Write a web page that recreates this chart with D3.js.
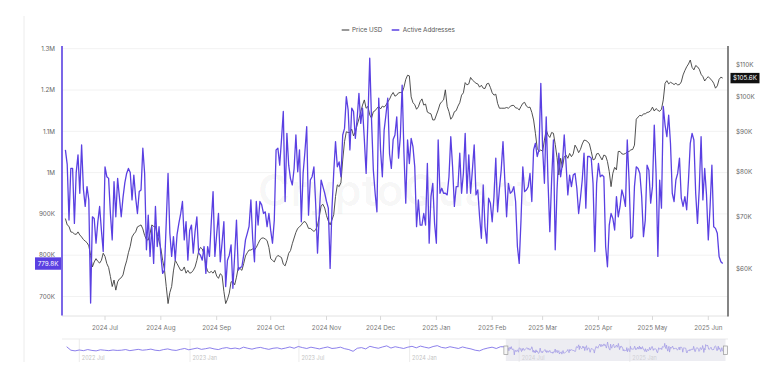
<!DOCTYPE html>
<html><head><meta charset="utf-8">
<script src="https://cdn.jsdelivr.net/npm/d3@7"></script>
<style>body{margin:0;background:#fff}svg{display:block}text{font-family:Inter,"Noto Sans",sans-serif}</style>
</head><body><svg id="c" width="770" height="373"></svg>
<script>
// ---------- DATA ----------
const startDate = "2024-06-09";          // first daily point
const endDate = "2025-06-09";            // last daily point
// Active addresses, thousands, daily
const activeAddressesK = [
1055,1020,885,1010,1010,877,1000,1043,950,1067,
960,918,966,934,684,893,889,829,880,918,
860,809,1014,990,986,900,837,978,893,986,
940,893,940,975,998,1010,1000,934,994,940,
901,954,958,1059,998,813,897,797,869,780,
918,821,869,800,756,764,880,998,853,797,
845,788,850,877,900,930,837,881,788,860,
873,805,857,893,805,800,788,821,756,821,
797,880,954,797,850,901,784,830,881,724,
788,800,825,720,800,885,764,770,772,800,
837,853,870,934,840,784,930,873,930,922,
901,905,869,901,860,829,885,1055,1059,1018,
1080,1148,930,1095,1018,985,970,1010,1091,1002,
1055,881,998,1050,1111,897,982,990,1014,922,
805,900,982,966,950,930,914,768,910,1000,
1075,1014,1026,990,1091,1107,1184,1152,1055,1156,
1148,1083,1130,1192,1119,1156,1080,998,1130,1277,
1127,1006,950,905,1180,1055,990,1103,1140,1180,
1045,1010,1080,1091,1135,1035,1087,1212,1047,926,
1079,1022,1083,1063,1014,869,934,873,873,901,
873,1022,829,942,974,877,829,1079,950,962,
950,950,946,990,1087,1014,918,966,966,1047,
950,998,1095,950,1043,950,1006,1067,946,958,
893,841,970,869,829,938,926,881,942,1035,
905,960,1006,1075,982,893,974,950,954,966,
930,821,780,885,1014,954,958,966,998,930,
1055,1071,1039,1055,1216,1059,974,1135,978,857,
982,1079,813,958,1047,990,1022,1091,1022,946,
994,966,994,998,962,901,938,982,1047,914,
1039,1039,1035,974,809,974,1022,990,994,990,
821,772,873,901,889,861,942,893,918,958,
942,918,1079,982,841,845,966,1014,1010,998,
942,845,885,1018,1006,926,966,1115,998,797,
982,914,1160,1115,1087,1139,1071,950,930,982,
998,1035,938,918,942,910,982,1071,1095,1079,
950,877,962,1087,934,1010,946,837,918,1018,
869,865,853,797,784,779.8
];
// BTC price, thousands USD, daily
const priceUsdK = [
69.7,68.4,68.1,67.0,66.9,66.6,66.5,67.0,66.4,66.0,
65.5,65.2,64.9,64.3,62.5,60.4,61.3,61.9,61.4,61.1,
61.6,62.9,62.3,61.0,60.3,58.7,57.0,58.1,56.4,57.8,
58.3,58.5,59.0,60.4,61.5,63.0,64.2,66.0,66.6,67.0,
68.0,68.2,68.4,67.6,66.3,65.5,65.4,66.7,68.4,68.1,
68.1,66.5,65.2,63.8,61.6,60.0,57.0,54.2,56.0,57.0,
59.7,61.6,61.0,60.4,59.8,59.8,60.4,59.3,59.8,59.3,
59.4,59.8,60.4,61.6,63.3,64.0,63.7,62.7,60.7,59.6,
59.4,59.6,59.3,59.8,58.8,58.4,59.2,58.9,56.2,54.2,
54.9,55.9,57.8,57.8,57.3,58.6,60.3,60.1,59.8,61.0,
62.4,63.0,63.5,63.5,63.7,63.5,64.0,64.7,65.4,65.8,
65.8,65.6,65.3,64.0,61.9,61.6,61.3,62.1,62.5,62.3,
62.1,60.9,60.6,61.6,62.9,63.4,64.7,65.8,66.9,67.7,
68.0,68.4,68.9,69.1,68.6,67.7,67.7,67.4,67.1,67.4,
68.3,70.1,72.4,72.7,71.9,70.3,69.2,68.4,69.4,70.5,
74.4,77.0,76.6,77.5,82.9,87.5,90.1,89.9,89.9,90.8,
89.0,90.1,91.9,93.6,95.6,97.5,99.0,96.6,97.1,94.7,
93.8,95.6,95.9,96.6,97.1,96.4,97.2,96.9,97.5,98.4,
99.2,100.4,101.2,100.1,100.4,101.1,101.2,101.1,102.8,105.2,
106.5,106.3,99.9,98.2,97.6,96.3,97.0,98.5,99.3,97.5,
97.8,95.5,95.2,95.0,93.3,93.3,94.7,96.1,97.8,98.5,
99.0,102.0,97.1,95.6,93.5,94.2,95.6,95.9,97.2,98.2,
100.4,101.1,104.2,103.5,103.8,105.8,105.0,104.5,104.0,103.8,
102.8,103.4,102.5,102.4,103.8,104.0,102.7,101.1,100.4,100.7,
98.0,96.6,96.6,96.6,96.6,96.8,96.6,97.1,97.4,97.4,
96.7,96.6,96.1,97.1,98.0,98.3,97.2,96.8,96.9,95.4,
93.3,89.7,85.8,85.0,85.4,85.0,87.9,90.6,89.2,88.6,
89.9,89.7,86.8,83.5,79.3,83.3,81.1,83.7,84.1,83.3,
84.5,83.7,84.4,86.6,85.8,84.7,85.5,86.9,87.9,87.8,
87.5,86.9,85.0,82.9,83.1,84.4,84.5,83.7,82.9,84.1,
83.9,82.5,80.1,76.6,79.7,81.1,80.5,85.0,85.0,84.4,
84.3,84.5,84.9,85.0,85.4,85.5,86.6,93.5,94.1,94.6,
94.4,95.0,95.0,95.4,95.5,95.9,96.9,95.8,96.5,96.0,
95.7,96.3,99.0,104.0,104.8,103.8,104.3,104.0,103.6,104.0,
103.5,103.6,104.4,106.6,108.0,109.2,110.1,111.4,109.0,108.2,
109.6,109.2,108.4,106.8,106.05,104.7,105.5,106.05,105.4,104.9,
104.0,102.5,103.2,105.2,105.9,105.6
];
// Navigator: weekly active addresses (thousands) before the daily window
const navStartDate = "2022-06-10";
const navWeeklyAddressesK = [
1060,900,870,910,880,930,890,870,920,900,880,910,890,
900,930,880,910,940,900,920,950,900,880,930,960,910,
890,940,980,920,960,1000,940,970,1010,960,930,990,1020,
970,1000,960,1040,990,950,1000,1030,980,940,990,1010,960,
1000,1050,990,1070,1020,980,1040,1000,960,1010,1050,980,1000,
1040,970,930,850,990,1020,960,1080,1030,990,1050,1100,1000,
1060,1020,980,1040,1080,1010,1090,1040,1000,1070,1110,1030,1000,
1060,1020,980,1050,1000,960,900,870,950,1000,1040,980,1060
];
const navTickDates = ["2022-07-01","2023-01-01","2023-07-01","2024-01-01","2024-07-01","2025-01-01"];
const navTickLabels = ["2022 Jul","2023 Jan","2023 Jul","2024 Jan","2024 Jul","2025 Jan"];
const leftTicks = [700000,800000,900000,1000000,1100000,1200000,1300000];
const leftTickLabels = ["700K","800K","900K","1M","1.1M","1.2M","1.3M"];
const rightTicks = [60000,70000,80000,90000,100000,110000];
const rightTickLabels = ["$60K","$70K","$80K","$90K","$100K","$110K"];
const seriesNames = ["Price USD","Active Addresses"];
const lastAddressLabel = "779.8K";
const lastPriceLabel = "$105.6K";

// ---------- DRAW ----------
const svg = d3.select("#c");
const BLUE = "#5a40e2", GREY = "#3d3d3d";
const P = {l:62, r:728, t:46, b:315.5};
const parse = d3.utcParse("%Y-%m-%d");
const t0 = parse(startDate);
const daily = activeAddressesK.map((v,i)=>({date:d3.utcDay.offset(t0,i), addr:v*1000, price:priceUsdK[i]*1000}));

const x = d3.scaleUtc().domain([parse(startDate), parse(endDate)]).range([65.4, 722.7]);
const yL = d3.scaleLinear().domain([700000,1300000]).range([296.5,48.7]);
const yR = d3.scaleLog().domain([60000,110000]).range([269.2,64.3]);

// outer card border
svg.append("line").attr("x1",24).attr("x2",24).attr("y1",16).attr("y2",362).attr("stroke","#ececec");

// gridlines
svg.append("g").selectAll("line").data(leftTicks).join("line")
  .attr("x1",P.l).attr("x2",P.r).attr("y1",d=>yL(d)).attr("y2",d=>yL(d))
  .attr("stroke","#f2f2f2").attr("stroke-width",1);

// watermark
svg.append("text").attr("x",395).attr("y",206).attr("text-anchor","middle")
  .attr("font-size",44).attr("font-weight",600).attr("fill","#000").attr("fill-opacity",0.035)
  .text("CryptoQuant");

// legend
const lg = svg.append("g");
[[seriesNames[0],"#777",341.7,352],[seriesNames[1],BLUE,391.7,402.7]].forEach(([n,c,sx,tx])=>{
  lg.append("line").attr("x1",sx).attr("x2",sx+7.6).attr("y1",30).attr("y2",30).attr("stroke",c).attr("stroke-width",1.5);
  lg.append("text").attr("x",tx).attr("y",30).attr("dy","0.35em").attr("font-size",6.3).attr("fill","#555").text(n);
});

// x axis
svg.append("line").attr("x1",P.l).attr("x2",P.r).attr("y1",316).attr("y2",316).attr("stroke","#e2e2e2");
const months = d3.utcMonth.range(d3.utcMonth.ceil(x.domain()[0]), x.domain()[1]);
const xg = svg.append("g");
xg.selectAll("line").data(months).join("line")
  .attr("x1",d=>x(d)).attr("x2",d=>x(d)).attr("y1",316).attr("y2",320).attr("stroke","#d8d8d8");
xg.selectAll("text").data(months).join("text")
  .attr("x",d=>x(d)).attr("y",330).attr("text-anchor","middle").attr("font-size",6.3).attr("fill","#777")
  .text(d3.utcFormat("%Y %b"));

// left axis
svg.append("line").attr("x1",P.l).attr("x2",P.l).attr("y1",P.t).attr("y2",P.b).attr("stroke",BLUE).attr("stroke-width",1.6);
svg.append("g").selectAll("text").data(leftTicks).join("text")
  .attr("x",55).attr("y",d=>yL(d)).attr("dy","0.35em").attr("text-anchor","end")
  .attr("font-size",6.3).attr("fill","#666").text((d,i)=>leftTickLabels[i]);
// right axis
svg.append("line").attr("x1",P.r).attr("x2",P.r).attr("y1",P.t).attr("y2",P.b+1).attr("stroke","#666").attr("stroke-width",1.6);
svg.append("g").selectAll("text").data(rightTicks).join("text")
  .attr("x",736).attr("y",d=>yR(d)).attr("dy","0.35em").attr("text-anchor","start")
  .attr("font-size",6.3).attr("fill","#666").text((d,i)=>rightTickLabels[i]);

// series
svg.append("path").datum(daily).attr("fill","none").attr("stroke",GREY).attr("stroke-width",0.9)
  .attr("stroke-linejoin","round")
  .attr("d",d3.line().x(d=>x(d.date)).y(d=>yR(d.price)));
svg.append("path").datum(daily).attr("fill","none").attr("stroke",BLUE).attr("stroke-width",1.3)
  .attr("stroke-linejoin","round")
  .attr("d",d3.line().x(d=>x(d.date)).y(d=>yL(d.addr)));

// value badges
const last = daily[daily.length-1];
const lb = svg.append("g");
lb.append("rect").attr("x",35).attr("y",yL(last.addr)-6.2).attr("width",26).attr("height",12.4).attr("fill",BLUE);
lb.append("text").attr("x",48).attr("y",yL(last.addr)).attr("dy","0.35em").attr("text-anchor","middle")
  .attr("font-size",6.3).attr("fill","#fff").text(lastAddressLabel);
const rb = svg.append("g");
rb.append("rect").attr("x",730.5).attr("y",yR(last.price)-5.2).attr("width",29).attr("height",10.4).attr("fill","#111");
rb.append("text").attr("x",745).attr("y",yR(last.price)).attr("dy","0.35em").attr("text-anchor","middle")
  .attr("font-size",6.3).attr("fill","#fff").text(lastPriceLabel);

// navigator
const nt0 = parse(navStartDate);
const navData = navWeeklyAddressesK.map((v,i)=>({date:d3.utcDay.offset(nt0,i*7), v:v*1000}))
  .concat(daily.map(d=>({date:d.date, v:d.addr})));
const xN = d3.scaleUtc().domain([parse("2022-07-01"), parse(endDate)]).range([79.3, 725.5]);
const yN = d3.scaleLinear().domain([450000,1416000]).range([360,339]);
svg.append("line").attr("x1",P.l).attr("x2",P.r).attr("y1",339).attr("y2",339).attr("stroke","#ebebeb");
const ng = svg.append("g");
ng.selectAll("line").data(navTickDates).join("line")
  .attr("x1",d=>xN(parse(d))).attr("x2",d=>xN(parse(d))).attr("y1",339).attr("y2",362).attr("stroke","#ececec");
ng.selectAll("text").data(navTickDates).join("text")
  .attr("x",d=>xN(parse(d))+2.5).attr("y",360).attr("font-size",5.5).attr("fill","#c4c4c4")
  .text((d,i)=>navTickLabels[i]);
svg.append("path").datum(navData).attr("fill","none").attr("stroke","#6f5fe6").attr("stroke-width",0.8)
  .attr("d",d3.line().x(d=>xN(d.date)).y(d=>yN(d.v)));
const s0 = xN(parse(startDate)), s1 = xN(parse(endDate));
svg.append("rect").attr("x",s0).attr("y",339).attr("width",s1-s0).attr("height",22)
  .attr("fill","#dcdce6").attr("fill-opacity",0.5);
[s0,s1].forEach(h=>{
  svg.append("rect").attr("x",h-2).attr("y",346).attr("width",4).attr("height",8.5)
    .attr("fill","#f6f6f6").attr("stroke","#999").attr("stroke-width",0.7);
});
</script></body></html>
